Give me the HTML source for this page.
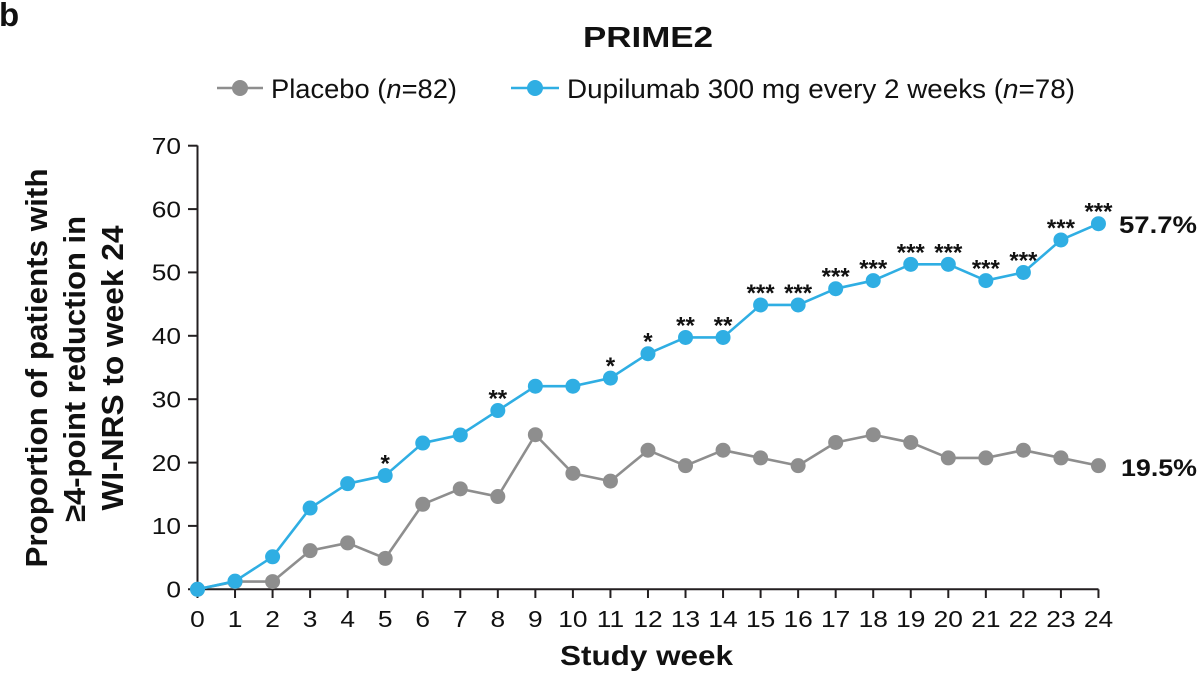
<!DOCTYPE html>
<html>
<head>
<meta charset="utf-8">
<style>
  html,body{margin:0;padding:0;background:#fff;}
  svg{display:block;}
  text{font-family:"Liberation Sans", Arial, sans-serif;fill:#111;}
  .b{font-weight:bold;}
</style>
</head>
<body>
<svg width="1200" height="673" viewBox="0 0 1200 673" xmlns="http://www.w3.org/2000/svg">
  <!-- panel letter -->
  <text class="b" x="-1" y="26" font-size="33">b</text>

  <!-- title -->
  <text class="b" x="583" y="47" font-size="29" textLength="130" lengthAdjust="spacingAndGlyphs">PRIME2</text>

  <!-- legend -->
  <line x1="217" y1="88" x2="263" y2="88" stroke="#8e8e8e" stroke-width="2.5"/>
  <circle cx="240" cy="88" r="8" fill="#8e8e8e"/>
  <text x="271" y="98" font-size="27" textLength="186" lengthAdjust="spacingAndGlyphs">Placebo (<tspan font-style="italic">n</tspan>=82)</text>

  <line x1="511" y1="88" x2="559" y2="88" stroke="#2faee3" stroke-width="2.5"/>
  <circle cx="535" cy="88" r="8" fill="#2faee3"/>
  <text x="567" y="98" font-size="27" textLength="508" lengthAdjust="spacingAndGlyphs">Dupilumab 300 mg every 2 weeks (<tspan font-style="italic">n</tspan>=78)</text>

  <!-- y axis title -->
  <g transform="translate(47,368) rotate(-90)">
    <text class="b" x="0" y="0" font-size="31" text-anchor="middle" textLength="399" lengthAdjust="spacingAndGlyphs">Proportion of patients with</text>
  </g>
  <g transform="translate(85,369) rotate(-90)">
    <text class="b" x="0" y="0" font-size="31" text-anchor="middle" textLength="306" lengthAdjust="spacingAndGlyphs">≥4-point reduction in</text>
  </g>
  <g transform="translate(123,368) rotate(-90)">
    <text class="b" x="0" y="0" font-size="31" text-anchor="middle" textLength="285" lengthAdjust="spacingAndGlyphs">WI-NRS to week 24</text>
  </g>

  <!-- axes -->
  <g stroke="#231f20" stroke-width="2" fill="none">
    <line x1="197.5" y1="145.5" x2="197.5" y2="590.3"/>
    <line x1="188" y1="589.3" x2="1098.5" y2="589.3"/>
    <!-- y ticks -->
    <line x1="188" y1="145.7" x2="197.5" y2="145.7"/>
    <line x1="188" y1="209.1" x2="197.5" y2="209.1"/>
    <line x1="188" y1="272.4" x2="197.5" y2="272.4"/>
    <line x1="188" y1="335.8" x2="197.5" y2="335.8"/>
    <line x1="188" y1="399.2" x2="197.5" y2="399.2"/>
    <line x1="188" y1="462.6" x2="197.5" y2="462.6"/>
    <line x1="188" y1="525.9" x2="197.5" y2="525.9"/>
    <!-- x ticks -->
    <line x1="197.5" y1="589.3" x2="197.5" y2="598"/>
    <line x1="235.04" y1="589.3" x2="235.04" y2="598"/>
    <line x1="272.58" y1="589.3" x2="272.58" y2="598"/>
    <line x1="310.12" y1="589.3" x2="310.12" y2="598"/>
    <line x1="347.66" y1="589.3" x2="347.66" y2="598"/>
    <line x1="385.2" y1="589.3" x2="385.2" y2="598"/>
    <line x1="422.74" y1="589.3" x2="422.74" y2="598"/>
    <line x1="460.28" y1="589.3" x2="460.28" y2="598"/>
    <line x1="497.82" y1="589.3" x2="497.82" y2="598"/>
    <line x1="535.36" y1="589.3" x2="535.36" y2="598"/>
    <line x1="572.9" y1="589.3" x2="572.9" y2="598"/>
    <line x1="610.44" y1="589.3" x2="610.44" y2="598"/>
    <line x1="647.98" y1="589.3" x2="647.98" y2="598"/>
    <line x1="685.52" y1="589.3" x2="685.52" y2="598"/>
    <line x1="723.06" y1="589.3" x2="723.06" y2="598"/>
    <line x1="760.6" y1="589.3" x2="760.6" y2="598"/>
    <line x1="798.14" y1="589.3" x2="798.14" y2="598"/>
    <line x1="835.68" y1="589.3" x2="835.68" y2="598"/>
    <line x1="873.22" y1="589.3" x2="873.22" y2="598"/>
    <line x1="910.76" y1="589.3" x2="910.76" y2="598"/>
    <line x1="948.3" y1="589.3" x2="948.3" y2="598"/>
    <line x1="985.84" y1="589.3" x2="985.84" y2="598"/>
    <line x1="1023.38" y1="589.3" x2="1023.38" y2="598"/>
    <line x1="1060.92" y1="589.3" x2="1060.92" y2="598"/>
    <line x1="1098.46" y1="589.3" x2="1098.46" y2="598"/>
  </g>

  <!-- y tick labels -->
  <g font-size="23.5" text-anchor="end">
    <text transform="translate(181,154) scale(1.12,1)">70</text>
    <text transform="translate(181,217.4) scale(1.12,1)">60</text>
    <text transform="translate(181,280.7) scale(1.12,1)">50</text>
    <text transform="translate(181,344.1) scale(1.12,1)">40</text>
    <text transform="translate(181,407.5) scale(1.12,1)">30</text>
    <text transform="translate(181,470.9) scale(1.12,1)">20</text>
    <text transform="translate(181,534.2) scale(1.12,1)">10</text>
    <text transform="translate(181,597.6) scale(1.12,1)">0</text>
  </g>

  <!-- x tick labels -->
  <g font-size="23.5" text-anchor="middle">
    <text transform="translate(197.5,627) scale(1.12,1)">0</text>
    <text transform="translate(235.04,627) scale(1.12,1)">1</text>
    <text transform="translate(272.58,627) scale(1.12,1)">2</text>
    <text transform="translate(310.12,627) scale(1.12,1)">3</text>
    <text transform="translate(347.66,627) scale(1.12,1)">4</text>
    <text transform="translate(385.2,627) scale(1.12,1)">5</text>
    <text transform="translate(422.74,627) scale(1.12,1)">6</text>
    <text transform="translate(460.28,627) scale(1.12,1)">7</text>
    <text transform="translate(497.82,627) scale(1.12,1)">8</text>
    <text transform="translate(535.36,627) scale(1.12,1)">9</text>
    <text transform="translate(572.9,627) scale(1.12,1)">10</text>
    <text transform="translate(610.44,627) scale(1.12,1)">11</text>
    <text transform="translate(647.98,627) scale(1.12,1)">12</text>
    <text transform="translate(685.52,627) scale(1.12,1)">13</text>
    <text transform="translate(723.06,627) scale(1.12,1)">14</text>
    <text transform="translate(760.6,627) scale(1.12,1)">15</text>
    <text transform="translate(798.14,627) scale(1.12,1)">16</text>
    <text transform="translate(835.68,627) scale(1.12,1)">17</text>
    <text transform="translate(873.22,627) scale(1.12,1)">18</text>
    <text transform="translate(910.76,627) scale(1.12,1)">19</text>
    <text transform="translate(948.3,627) scale(1.12,1)">20</text>
    <text transform="translate(985.84,627) scale(1.12,1)">21</text>
    <text transform="translate(1023.38,627) scale(1.12,1)">22</text>
    <text transform="translate(1060.92,627) scale(1.12,1)">23</text>
    <text transform="translate(1098.46,627) scale(1.12,1)">24</text>
  </g>

  <!-- x axis title -->
  <text class="b" x="560" y="665" font-size="28" textLength="173" lengthAdjust="spacingAndGlyphs">Study week</text>

  <!-- Placebo series -->
  <polyline fill="none" stroke="#8e8e8e" stroke-width="2.6" stroke-linejoin="round"
    points="197.5,589.3 235.04,581.57 272.58,581.57 310.12,550.66 347.66,542.93 385.2,558.39 422.74,504.29 460.28,488.84 497.82,496.56 535.36,434.74 572.9,473.38 610.44,481.11 647.98,450.2 685.52,465.65 723.06,450.2 760.6,457.92 798.14,465.65 835.68,442.47 873.22,434.74 910.76,442.47 948.3,457.92 985.84,457.92 1023.38,450.2 1060.92,457.92 1098.46,465.65"/>
  <g fill="#8e8e8e">
    <circle cx="197.5" cy="589.3" r="7.5"/>
    <circle cx="235.04" cy="581.57" r="7.5"/>
    <circle cx="272.58" cy="581.57" r="7.5"/>
    <circle cx="310.12" cy="550.66" r="7.5"/>
    <circle cx="347.66" cy="542.93" r="7.5"/>
    <circle cx="385.2" cy="558.39" r="7.5"/>
    <circle cx="422.74" cy="504.29" r="7.5"/>
    <circle cx="460.28" cy="488.84" r="7.5"/>
    <circle cx="497.82" cy="496.56" r="7.5"/>
    <circle cx="535.36" cy="434.74" r="7.5"/>
    <circle cx="572.9" cy="473.38" r="7.5"/>
    <circle cx="610.44" cy="481.11" r="7.5"/>
    <circle cx="647.98" cy="450.2" r="7.5"/>
    <circle cx="685.52" cy="465.65" r="7.5"/>
    <circle cx="723.06" cy="450.2" r="7.5"/>
    <circle cx="760.6" cy="457.92" r="7.5"/>
    <circle cx="798.14" cy="465.65" r="7.5"/>
    <circle cx="835.68" cy="442.47" r="7.5"/>
    <circle cx="873.22" cy="434.74" r="7.5"/>
    <circle cx="910.76" cy="442.47" r="7.5"/>
    <circle cx="948.3" cy="457.92" r="7.5"/>
    <circle cx="985.84" cy="457.92" r="7.5"/>
    <circle cx="1023.38" cy="450.2" r="7.5"/>
    <circle cx="1060.92" cy="457.92" r="7.5"/>
    <circle cx="1098.46" cy="465.65" r="7.5"/>
  </g>

  <!-- Dupilumab series -->
  <polyline fill="none" stroke="#2faee3" stroke-width="2.6" stroke-linejoin="round"
    points="197.5,589.3 235.04,581.18 272.58,556.8 310.12,508.06 347.66,483.68 385.2,475.56 422.74,443.06 460.28,434.94 497.82,410.56 535.36,386.19 572.9,386.19 610.44,378.07 647.98,353.69 685.52,337.44 723.06,337.44 760.6,304.95 798.14,304.95 835.68,288.7 873.22,280.57 910.76,264.32 948.3,264.32 985.84,280.57 1023.38,272.45 1060.92,239.95 1098.46,223.7"/>
  <g fill="#2faee3">
    <circle cx="197.5" cy="589.3" r="7.5"/>
    <circle cx="235.04" cy="581.18" r="7.5"/>
    <circle cx="272.58" cy="556.8" r="7.5"/>
    <circle cx="310.12" cy="508.06" r="7.5"/>
    <circle cx="347.66" cy="483.68" r="7.5"/>
    <circle cx="385.2" cy="475.56" r="7.5"/>
    <circle cx="422.74" cy="443.06" r="7.5"/>
    <circle cx="460.28" cy="434.94" r="7.5"/>
    <circle cx="497.82" cy="410.56" r="7.5"/>
    <circle cx="535.36" cy="386.19" r="7.5"/>
    <circle cx="572.9" cy="386.19" r="7.5"/>
    <circle cx="610.44" cy="378.07" r="7.5"/>
    <circle cx="647.98" cy="353.69" r="7.5"/>
    <circle cx="685.52" cy="337.44" r="7.5"/>
    <circle cx="723.06" cy="337.44" r="7.5"/>
    <circle cx="760.6" cy="304.95" r="7.5"/>
    <circle cx="798.14" cy="304.95" r="7.5"/>
    <circle cx="835.68" cy="288.7" r="7.5"/>
    <circle cx="873.22" cy="280.57" r="7.5"/>
    <circle cx="910.76" cy="264.32" r="7.5"/>
    <circle cx="948.3" cy="264.32" r="7.5"/>
    <circle cx="985.84" cy="280.57" r="7.5"/>
    <circle cx="1023.38" cy="272.45" r="7.5"/>
    <circle cx="1060.92" cy="239.95" r="7.5"/>
    <circle cx="1098.46" cy="223.7" r="7.5"/>
  </g>

  <!-- significance asterisks -->
  <g class="b" font-size="24" font-weight="bold" text-anchor="middle">
    <text x="385.2" y="471.5">*</text>
    <text x="497.82" y="406.5">**</text>
    <text x="610.44" y="374">*</text>
    <text x="647.98" y="349.7">*</text>
    <text x="685.52" y="333.4">**</text>
    <text x="723.06" y="333.4">**</text>
    <text x="760.6" y="301">***</text>
    <text x="798.14" y="301">***</text>
    <text x="835.68" y="284.7">***</text>
    <text x="873.22" y="276.6">***</text>
    <text x="910.76" y="260.3">***</text>
    <text x="948.3" y="260.3">***</text>
    <text x="985.84" y="276.6">***</text>
    <text x="1023.38" y="268.4">***</text>
    <text x="1060.92" y="236">***</text>
    <text x="1098.46" y="219.7">***</text>
  </g>

  <!-- end labels -->
  <text class="b" x="1119" y="233" font-size="24.5" textLength="78" lengthAdjust="spacingAndGlyphs">57.7%</text>
  <text class="b" x="1121" y="476" font-size="24.5" textLength="76" lengthAdjust="spacingAndGlyphs">19.5%</text>
</svg>
</body>
</html>
